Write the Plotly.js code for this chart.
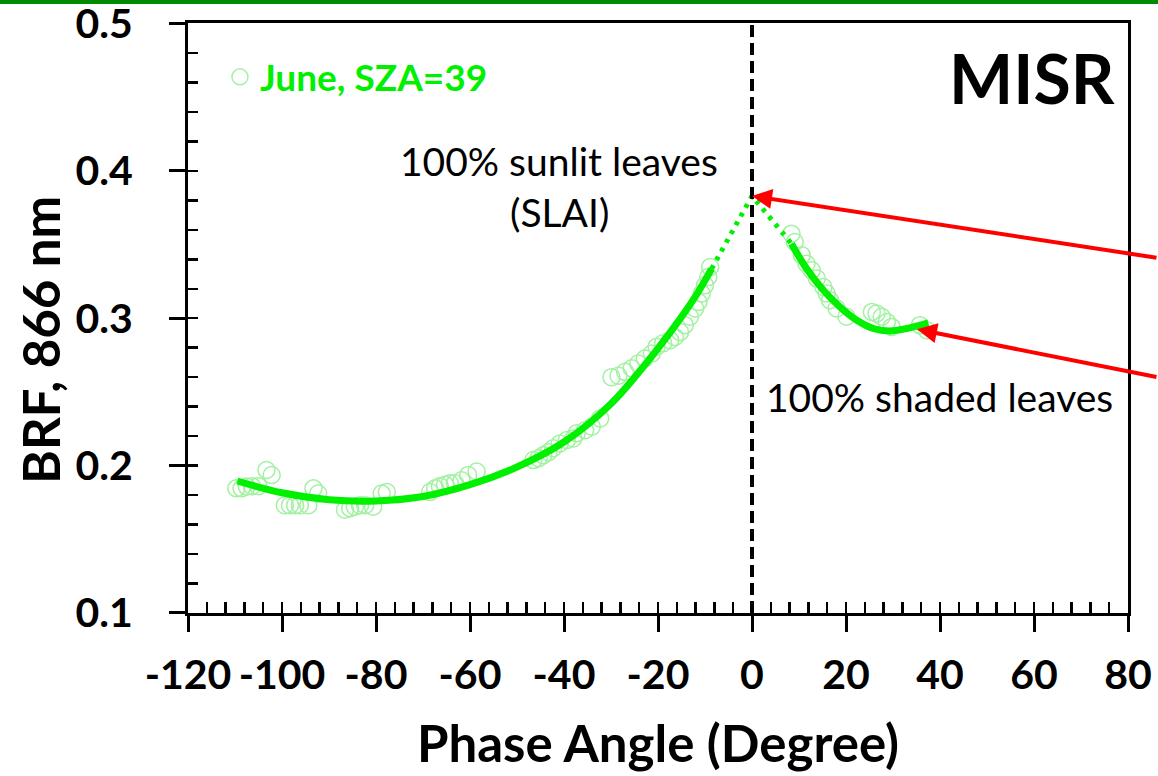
<!DOCTYPE html>
<html>
<head>
<meta charset="utf-8">
<script src="https://cdn.plot.ly/plotly-3.0.1.min.js"></script>
<style>
  html, body { margin: 0; padding: 0; background: #ffffff; }
  #topbar { position: absolute; left: 0; top: 0; width: 1158px; height: 4px; background: #008a00; z-index: 5; }
  #chart { width: 1158px; height: 776px; }
</style>
</head>
<body>
<div id="topbar"></div>
<div id="chart"></div>
<script>
// MISR observations (June, SZA = 39): phase angle (deg) vs BRF at 866 nm
const PHASE_OBS = [
  -109.7, -108.6, -107.5, -106.4, -105.0, -103.3, -102.2,
  -99.4, -98.3, -97.2, -96.2, -94.4, -93.3, -92.3,
  -86.6, -85.5, -84.5, -83.4, -82.3, -80.6, -78.8, -77.7,
  -68.5, -67.4, -66.4, -65.3, -64.3, -63.2, -61.8, -60.4, -58.6,
  -46.5, -45.4, -44.4, -43.3, -42.3, -40.9, -39.4, -38.0,
  -37.3, -35.5, -34.1, -32.3,
  -29.9, -28.4, -27.0, -25.6, -24.2, -22.8, -21.3, -20.3, -18.9, -17.4,
  -16.4, -15.3, -14.3, -13.2, -12.1, -11.4, -10.7, -10.0, -9.3, -8.9,
  8.4, 9.1, 10.6, 11.6, 12.7, 13.8, 15.2, 15.9, 16.6, 18.0, 20.1,
  25.5, 26.5, 27.6, 28.7, 29.7, 35.7, 37.2
];
const BRF_OBS = [
  0.1845, 0.1845, 0.1857, 0.1860, 0.1860, 0.1970, 0.1936,
  0.1730, 0.1730, 0.1730, 0.1730, 0.1730, 0.1845, 0.1810,
  0.1700, 0.1710, 0.1720, 0.1730, 0.1730, 0.1720, 0.1810, 0.1820,
  0.1820, 0.1845, 0.1860, 0.1870, 0.1880, 0.1880, 0.1900, 0.1936, 0.1960,
  0.2037, 0.2050, 0.2070, 0.2090, 0.2117, 0.2150, 0.2173, 0.2184,
  0.2220, 0.2240, 0.2264, 0.2320,
  0.2600, 0.2610, 0.2636, 0.2660, 0.2693, 0.2727, 0.2760, 0.2806, 0.2830, 0.2850,
  0.2873, 0.2907, 0.2953, 0.3010, 0.3066, 0.3110, 0.3167, 0.3224, 0.3280, 0.3348,
  0.3574, 0.3517, 0.3427, 0.3370, 0.3325, 0.3269, 0.3212, 0.3167, 0.3122, 0.3066, 0.3010,
  0.3043, 0.3032, 0.3010, 0.2975, 0.2941, 0.2953, 0.2919
];

// Fitted curve, backward-scattering side (negative phase angles)
const FIT_BACK_X = [-109.5, -100, -90, -80, -70, -60, -50, -40, -30, -22, -16, -12, -8.6];
const FIT_BACK_Y = [0.1895, 0.1815, 0.1768, 0.1760, 0.1790, 0.1870, 0.1990, 0.2160, 0.2420, 0.2715, 0.2965, 0.3150, 0.3335];

// Fitted curve, forward-scattering side (positive phase angles)
const FIT_FWD_X = [8.4, 11.6, 15.2, 18.7, 22.3, 25.8, 29.4, 32.9, 37.5];
const FIT_FWD_Y = [0.3506, 0.3337, 0.3190, 0.3077, 0.2986, 0.2930, 0.2914, 0.2930, 0.2968];

// Hot-spot value (100% sunlit leaves) at zero phase angle
const HOTSPOT_X = 0;
const HOTSPOT_BRF = 0.383;

// Point of the forward curve labelled as 100% shaded leaves
const SHADED_X = 35.1;
const SHADED_BRF = 0.2925;

// Axis ticks
const X_TICKS = [-120, -100, -80, -60, -40, -20, 0, 20, 40, 60, 80];
const X_TICK_LABELS = ['-120', '-100', '-80', '-60', '-40', '-20', '0', '20', '40', '60', '80'];
const Y_TICKS = [0.1, 0.2, 0.3, 0.4, 0.5];
const Y_TICK_LABELS = ['0.1', '0.2', '0.3', '0.4', '0.5'];

const FONT = 'Lato, "Open Sans", "Noto Sans", sans-serif';
const GREEN = '#00f000';
const LIGHT_GREEN = '#a3f0a3';

const traces = [
  {
    type: 'scatter', mode: 'markers', name: 'June, SZA=39',
    x: PHASE_OBS, y: BRF_OBS,
    marker: { symbol: 'circle-open', size: 17, color: LIGHT_GREEN, line: { width: 1.5, color: LIGHT_GREEN } },
    hoverinfo: 'x+y'
  },
  {
    type: 'scatter', mode: 'lines', showlegend: false,
    x: FIT_BACK_X, y: FIT_BACK_Y,
    line: { color: GREEN, width: 7, shape: 'spline', smoothing: 1 }
  },
  {
    type: 'scatter', mode: 'lines', showlegend: false,
    x: FIT_FWD_X, y: FIT_FWD_Y,
    line: { color: GREEN, width: 7, shape: 'spline', smoothing: 1 }
  },
  {
    // dotted extrapolation of both branches to the hot spot
    type: 'scatter', mode: 'lines', showlegend: false,
    x: [FIT_BACK_X[FIT_BACK_X.length - 1], HOTSPOT_X, FIT_FWD_X[0]],
    y: [FIT_BACK_Y[FIT_BACK_Y.length - 1], HOTSPOT_BRF, FIT_FWD_Y[0]],
    line: { color: GREEN, width: 5, dash: '4px,6px' },
    hoverinfo: 'skip'
  },
  {
    // carrier for the inner tick axes
    type: 'scatter', mode: 'markers', showlegend: false,
    x: [], y: [], xaxis: 'x2', yaxis: 'y2', hoverinfo: 'skip'
  }
];

const tickFont = { family: FONT, size: 41, color: '#000', weight: 700 };
const titleFont = { family: FONT, size: 51, color: '#000', weight: 700 };
const textFont = { family: FONT, size: 39, color: '#000' };

const X_RANGE = [-120, 80.0001];
const Y_RANGE = [0.0999, 0.5004];

const layout = {
  width: 1158, height: 776,
  margin: { l: 188, r: 30, t: 23, b: 163 },
  paper_bgcolor: '#ffffff', plot_bgcolor: '#ffffff',
  showlegend: true,
  legend: {
    x: 0.034, y: 0.908, xanchor: 'left', yanchor: 'middle',
    bgcolor: 'rgba(0,0,0,0)',
    font: { family: FONT, size: 37, color: GREEN, weight: 700 }
  },
  xaxis: {
    range: X_RANGE,
    tickmode: 'array', tickvals: X_TICKS, ticktext: X_TICK_LABELS,
    ticks: 'outside', ticklen: 16, tickwidth: 3, tickcolor: '#000',
    showline: true, linewidth: 3, linecolor: '#000', mirror: true,
    showgrid: false, zeroline: false,
    tickfont: tickFont, ticklabelstandoff: 8,
    title: { text: 'Phase Angle (Degree)', font: titleFont, standoff: 30 }
  },
  yaxis: {
    range: Y_RANGE,
    tickmode: 'array', tickvals: Y_TICKS, ticktext: Y_TICK_LABELS,
    ticks: 'outside', ticklen: 16, tickwidth: 3, tickcolor: '#000',
    showline: true, linewidth: 3, linecolor: '#000', mirror: true,
    showgrid: false, zeroline: false, ticklabeloverflow: 'allow',
    tickfont: tickFont, ticklabelstandoff: 28
  },
  xaxis2: {
    overlaying: 'x', anchor: 'y', side: 'bottom',
    range: X_RANGE, tick0: 0, dtick: 20,
    ticks: 'inside', ticklen: 11, tickwidth: 2.5, tickcolor: '#000',
    minor: { dtick: 4, ticks: 'inside', ticklen: 11, tickwidth: 2.5, tickcolor: '#000' },
    showticklabels: false, showline: false, showgrid: false, zeroline: false
  },
  yaxis2: {
    overlaying: 'y', anchor: 'x', side: 'left',
    range: Y_RANGE, tick0: 0.1, dtick: 0.1,
    ticks: 'inside', ticklen: 10, tickwidth: 2.5, tickcolor: '#000',
    minor: { dtick: 0.02, ticks: 'inside', ticklen: 10, tickwidth: 2.5, tickcolor: '#000' },
    showticklabels: false, showline: false, showgrid: false, zeroline: false
  },
  shapes: [
    {
      type: 'line', xref: 'x', yref: 'paper',
      x0: HOTSPOT_X, x1: HOTSPOT_X, y0: 0, y1: 1,
      line: { color: '#000', width: 4, dash: '12px,6px' }
    }
  ],
  annotations: [
    {
      // vertical axis title
      text: 'BRF, 866 nm', xref: 'paper', yref: 'paper', x: -0.157, y: 0.464,
      xanchor: 'center', yanchor: 'middle', textangle: -90, showarrow: false,
      font: titleFont
    },
    {
      text: 'MISR', xref: 'paper', yref: 'paper', x: 0.988, y: 0.907,
      xanchor: 'right', yanchor: 'middle', showarrow: false,
      font: { family: FONT, size: 68, color: '#000', weight: 700 }
    },
    {
      text: '100% sunlit leaves', xref: 'x', yref: 'y', x: -41, y: 0.407,
      xanchor: 'center', yanchor: 'middle', showarrow: false, font: textFont
    },
    {
      text: '(SLAI)', xref: 'x', yref: 'y', x: -41, y: 0.372,
      xanchor: 'center', yanchor: 'middle', showarrow: false, font: textFont
    },
    {
      text: '100% shaded leaves', xref: 'x', yref: 'y', x: 2.6, y: 0.2464,
      xanchor: 'left', yanchor: 'middle', showarrow: false, font: textFont
    },
    {
      text: '', xref: 'x', yref: 'y', x: HOTSPOT_X, y: HOTSPOT_BRF,
      showarrow: true, arrowhead: 2, arrowsize: 1, arrowwidth: 4, arrowcolor: '#ff0000',
      ax: 406, ay: 62, standoff: 0
    },
    {
      text: '', xref: 'x', yref: 'y', x: SHADED_X, y: SHADED_BRF,
      showarrow: true, arrowhead: 2, arrowsize: 1, arrowwidth: 4, arrowcolor: '#ff0000',
      ax: 241, ay: 48, standoff: 0
    }
  ]
};

Plotly.newPlot('chart', traces, layout, { displayModeBar: false, staticPlot: true });
</script>
</body>
</html>
